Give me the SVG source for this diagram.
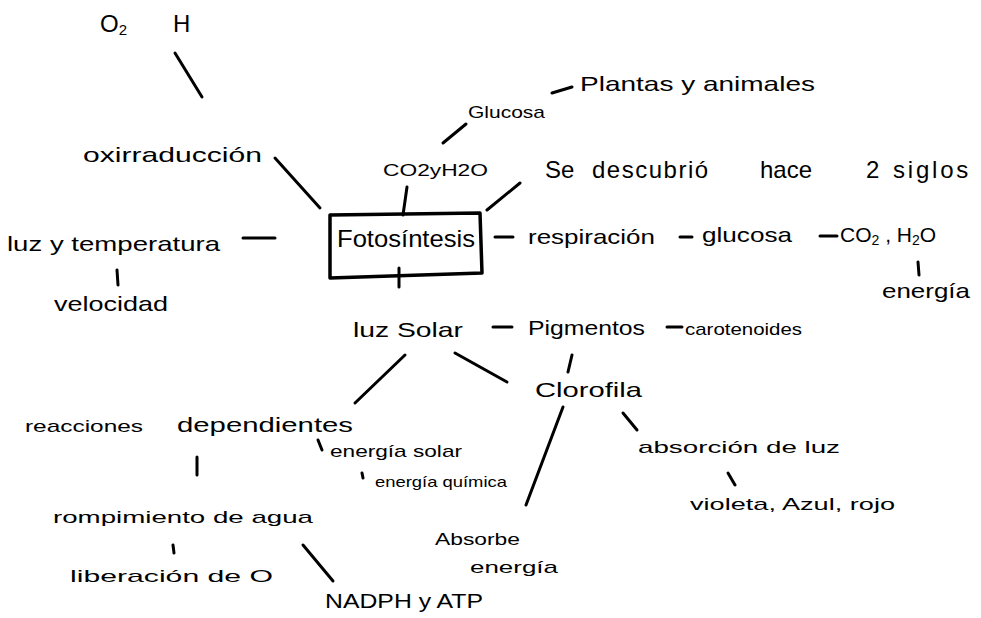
<svg xmlns="http://www.w3.org/2000/svg" width="981" height="618" viewBox="0 0 981 618">
<style>
text{font-family:"Liberation Sans","DejaVu Sans",sans-serif;fill:#000;font-size:21px}
.s{font-size:17px}.xs{font-size:15px}.l{font-size:24px}
.c line,.c path{stroke:#000;stroke-width:3;stroke-linecap:round;fill:none}
.box{stroke:#000;stroke-width:3.5;fill:none;stroke-linejoin:round}
</style>
<rect width="981" height="618" fill="#fff"/>
<g class="c" id="connectors">
<line x1="175" y1="53" x2="202" y2="97"/>
<line x1="275" y1="158" x2="320" y2="208"/>
<line x1="443" y1="143" x2="466" y2="124"/>
<line x1="552" y1="93" x2="572" y2="87"/>
<line x1="407" y1="187" x2="403" y2="215"/>
<line x1="487" y1="210" x2="520" y2="183"/>
<line x1="243" y1="238" x2="275" y2="238"/>
<line x1="117" y1="270" x2="118" y2="285"/>
<line x1="399" y1="268" x2="399" y2="287"/>
<line x1="495" y1="237" x2="513" y2="237"/>
<line x1="680" y1="237" x2="692" y2="237"/>
<line x1="820" y1="236" x2="837" y2="236"/>
<line x1="918" y1="262" x2="919" y2="275"/>
<line x1="493" y1="327" x2="512" y2="327"/>
<line x1="667" y1="327" x2="682" y2="327"/>
<line x1="405" y1="355" x2="355" y2="403"/>
<line x1="455" y1="353" x2="507" y2="382"/>
<line x1="572" y1="355" x2="568" y2="372"/>
<line x1="563" y1="407" x2="526" y2="505"/>
<line x1="623" y1="413" x2="637" y2="430"/>
<line x1="728" y1="473" x2="735" y2="485"/>
<line x1="197" y1="457" x2="197" y2="475"/>
<line x1="318" y1="440" x2="322" y2="450"/>
<line x1="362" y1="473" x2="363" y2="478"/>
<line x1="173" y1="545" x2="174" y2="553"/>
<line x1="303" y1="545" x2="333" y2="581"/>
</g>
<g id="n-o2"><text class="l" x="100" y="32">O<tspan font-size="15" dy="3">2</tspan></text></g>
<g id="n-h"><text class="l" x="173" y="32">H</text></g>
<g id="n-oxirraduccion"><text x="83" y="162" textLength="179" lengthAdjust="spacingAndGlyphs">oxirraducción</text></g>
<g id="n-glucosa1"><text class="s" x="468" y="118" textLength="77" lengthAdjust="spacingAndGlyphs">Glucosa</text></g>
<g id="n-plantas"><text x="580" y="91" font-size="23" textLength="235" lengthAdjust="spacingAndGlyphs">Plantas y animales</text></g>
<g id="n-co2h2o"><text class="s" x="383" y="176" textLength="105" lengthAdjust="spacingAndGlyphs">CO2yH2O</text></g>
<g id="n-descubrio"><text class="l" y="178"><tspan x="545">Se</tspan><tspan x="592" letter-spacing="1.5">descubrió</tspan><tspan x="760">hace</tspan><tspan x="866">2</tspan><tspan x="893" letter-spacing="2.8">siglos</tspan></text></g>
<g id="n-fotosintesis">
<path class="box" d="M330 215 L480 213 L482 273 L330 278 Z"/>
<text class="l" x="337" y="247" textLength="138" lengthAdjust="spacingAndGlyphs">Fotosíntesis</text>
</g>
<g id="n-respiracion"><text x="528" y="244" textLength="127" lengthAdjust="spacingAndGlyphs">respiración</text></g>
<g id="n-glucosa2"><text x="702" y="242" textLength="90" lengthAdjust="spacingAndGlyphs">glucosa</text></g>
<g id="n-co2-h2o"><text x="840" y="242">CO<tspan font-size="14" dy="3">2</tspan><tspan dy="-3"> , H</tspan><tspan font-size="14" dy="3">2</tspan><tspan dy="-3">O</tspan></text></g>
<g id="n-energia1"><text x="882" y="298" textLength="88" lengthAdjust="spacingAndGlyphs">energía</text></g>
<g id="n-luztemp"><text x="7" y="251" textLength="213" lengthAdjust="spacingAndGlyphs">luz y temperatura</text></g>
<g id="n-velocidad"><text x="54" y="311" textLength="114" lengthAdjust="spacingAndGlyphs">velocidad</text></g>
<g id="n-luzsolar"><text x="353" y="337" textLength="110" lengthAdjust="spacingAndGlyphs">luz Solar</text></g>
<g id="n-pigmentos"><text x="528" y="335" textLength="117" lengthAdjust="spacingAndGlyphs">Pigmentos</text></g>
<g id="n-carotenoides"><text class="s" x="685" y="335" textLength="117" lengthAdjust="spacingAndGlyphs">carotenoides</text></g>
<g id="n-clorofila"><text x="535" y="397" textLength="107" lengthAdjust="spacingAndGlyphs">Clorofila</text></g>
<g id="n-reacciones">
<text class="s" x="25" y="432" textLength="118" lengthAdjust="spacingAndGlyphs">reacciones</text>
<text x="177" y="432" textLength="176" lengthAdjust="spacingAndGlyphs">dependientes</text>
</g>
<g id="n-energiasolar"><text class="s" x="330" y="457" textLength="132" lengthAdjust="spacingAndGlyphs">energía solar</text></g>
<g id="n-energiaquimica"><text class="xs" x="375" y="487" textLength="132" lengthAdjust="spacingAndGlyphs">energía química</text></g>
<g id="n-rompimiento"><text class="s" x="53" y="523" textLength="260" lengthAdjust="spacingAndGlyphs">rompimiento de agua</text></g>
<g id="n-liberacion"><text class="s" x="70" y="582" textLength="203" lengthAdjust="spacingAndGlyphs">liberación de O</text></g>
<g id="n-nadph"><text x="325" y="608" font-size="20" textLength="158" lengthAdjust="spacingAndGlyphs">NADPH y ATP</text></g>
<g id="n-absorcionluz"><text class="s" x="638" y="453" textLength="202" lengthAdjust="spacingAndGlyphs">absorción de luz</text></g>
<g id="n-colores"><text class="s" x="690" y="510" textLength="205" lengthAdjust="spacingAndGlyphs">violeta, Azul, rojo</text></g>
<g id="n-absorbe">
<text class="s" x="435" y="545" textLength="85" lengthAdjust="spacingAndGlyphs">Absorbe</text>
<text class="s" x="470" y="573" textLength="88" lengthAdjust="spacingAndGlyphs">energía</text>
</g>
</svg>
